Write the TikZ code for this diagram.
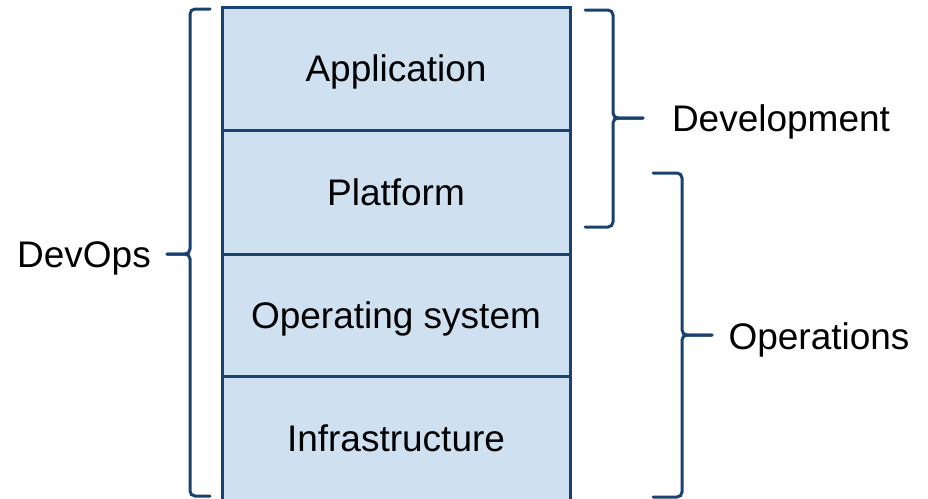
\documentclass[tikz,border=0pt]{standalone}
\usepackage{fontspec}
\setmainfont{Liberation Sans}
\definecolor{layerfill}{RGB}{207,224,241}
\definecolor{layerline}{RGB}{26,66,112}
\begin{document}
\begin{tikzpicture}[x=1pt,y=1pt,
  txt/.style={font=\fontsize{37}{40}\selectfont,text height=26.5pt,text depth=0pt},
  layer/.style={txt,draw=layerline,fill=layerfill,line width=3pt,minimum width=348pt,inner sep=0pt},
  lbl/.style={txt,inner sep=0pt},
  bracepath/.style={draw=layerline,line width=3pt,rounded corners=5pt,line cap=round}]
\useasboundingbox (0,0) rectangle (928,-498);
\node[layer,minimum height=123pt] (app) at (396,-68.5) {Application};
\node[layer,minimum height=124pt] (plat) at (396,-192) {Platform};
\node[layer,minimum height=122pt] (os) at (396,-315) {Operating system};
\node[layer,minimum height=125pt] (infra) at (396,-438.5) {Infrastructure};
% labels
\node[lbl] (devops) at (84,-254.5) {DevOps};
\node[lbl] (dev) at (781,-118) {Development};
\node[lbl] (ops) at (819,-336) {Operations};
% left brace
\coordinate (lt) at (167,-254);
\draw[bracepath] (210,-9) -- (190,-9) -- (190,-254) -- (lt);
\draw[bracepath] (210,-496) -- (190,-496) -- (190,-254) -- (lt);
% development brace
\coordinate (dt) at (643,-118);
\draw[bracepath] (585,-10) -- (613,-10) -- (613,-118) -- (dt);
\draw[bracepath] (585,-227) -- (613,-227) -- (613,-118) -- (dt);
% operations brace
\coordinate (ot) at (712,-335);
\draw[bracepath] (653,-173) -- (682,-173) -- (682,-335) -- (ot);
\draw[bracepath] (653,-497) -- (682,-497) -- (682,-335) -- (ot);
\end{tikzpicture}
\end{document}
